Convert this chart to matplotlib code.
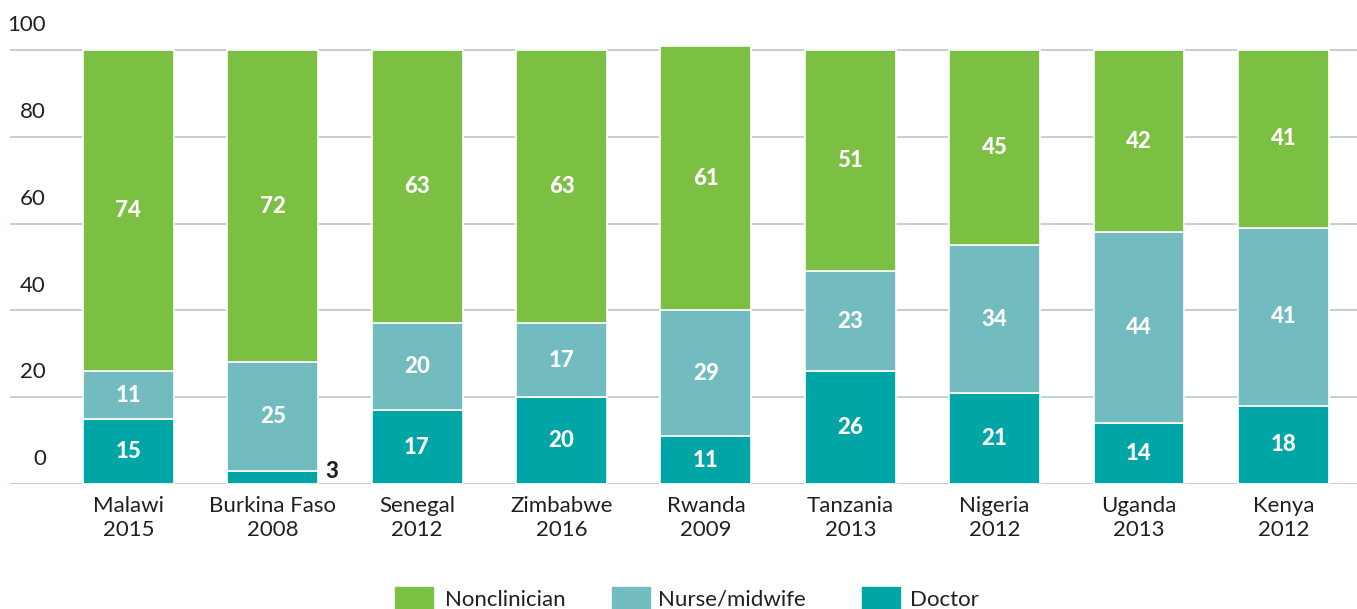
import matplotlib.pyplot as plt
from matplotlib.patches import Rectangle
from matplotlib.transforms import blended_transform_factory

# data (percent of providers)
countries = ["Malawi\n2015", "Burkina Faso\n2008", "Senegal\n2012", "Zimbabwe\n2016",
             "Rwanda\n2009", "Tanzania\n2013", "Nigeria\n2012", "Uganda\n2013", "Kenya\n2012"]
doctor = [15, 3, 17, 20, 11, 26, 21, 14, 18]
nurse = [11, 25, 20, 17, 29, 23, 34, 44, 41]
nonclinician = [74, 72, 63, 63, 61, 51, 45, 42, 41]
y_ticks = [0, 20, 40, 60, 80, 100]

c_non = "#7BC043"
c_nurse = "#72BCC0"
c_doc = "#00A6A6"
grid_c = "#B9C9C5"
font = "Lato"

plt.rcParams["font.family"] = [font, "DejaVu Sans"]

fig = plt.figure(figsize=(13.57, 6.09), dpi=100)
ax = fig.add_axes([10 / 1357, 1 - 484 / 609, 1 - 10 / 1357, 442.7 / 609])

x = list(range(len(countries)))
w = 0.63
bottom2 = doctor
bottom3 = [d + n for d, n in zip(doctor, nurse)]

ax.bar(x, doctor, w, color=c_doc, edgecolor="white", linewidth=1.2, zorder=3)
ax.bar(x, nurse, w, bottom=bottom2, color=c_nurse, edgecolor="white", linewidth=1.2, zorder=3)
ax.bar(x, nonclinician, w, bottom=bottom3, color=c_non, edgecolor="white", linewidth=1.2, zorder=3)

# value labels
lab = dict(ha="center", va="center", color="white", fontsize=16, fontweight="black", zorder=4)
for i in x:
    if doctor[i] >= 5:
        ax.text(i, doctor[i] / 2, str(doctor[i]), **lab)
    else:
        ax.text(i + w / 2 + 0.05, 0.5, str(doctor[i]), ha="left", va="bottom",
                color="#231F20", fontsize=16, fontweight="black", zorder=4)
    ax.text(i, bottom2[i] + nurse[i] / 2, str(nurse[i]), **lab)
    ax.text(i, bottom3[i] + nonclinician[i] / 2, str(nonclinician[i]), **lab)

ax.set_xlim(-0.82, 8.51)
ax.set_ylim(0, 102)

# gridlines with labels sitting above them
for v in y_ticks:
    ax.axhline(v, color=grid_c, linewidth=1.2, zorder=1)
trans = blended_transform_factory(ax.transAxes, ax.transData)
for v in y_ticks:
    ax.text(0.0267, v + 5.7, str(v), transform=trans, ha="right", va="center",
            fontsize=16, color="#231F20")

ax.set_yticks([])
ax.set_xticks(x)
ax.set_xticklabels(countries, fontsize=16, color="#231F20", linespacing=1.25)
ax.tick_params(axis="x", length=0, pad=9)
for s in ax.spines.values():
    s.set_visible(False)

# legend along the bottom edge
legend_items = [("Nonclinician", c_non, 395, 445),
                ("Nurse/midwife", c_nurse, 612, 658),
                ("Doctor", c_doc, 862, 910)]
for label, col, px, tx in legend_items:
    fig.add_artist(Rectangle((px / 1357, 1 - 615 / 609), 38 / 1357, 28 / 609,
                             transform=fig.transFigure, color=col))
    fig.text(tx / 1357, 1 - 600 / 609, label, fontsize=16, color="#231F20",
             ha="left", va="center")

fig.savefig("out.png", dpi=100)
